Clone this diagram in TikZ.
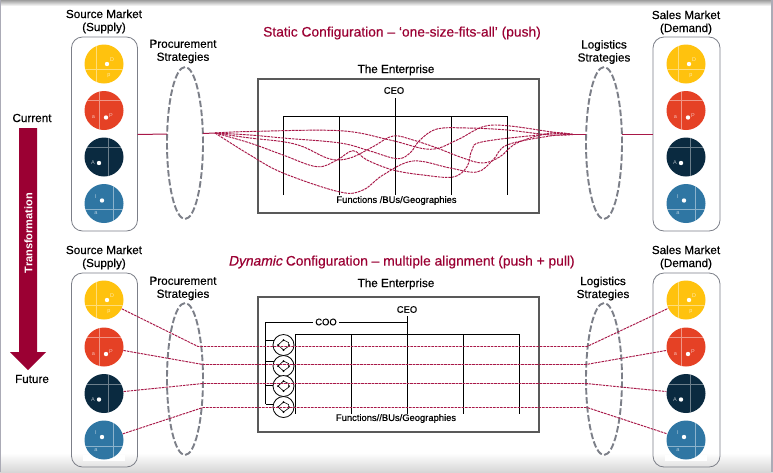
\documentclass[tikz,border=0pt]{standalone}
\usepackage{fontspec}
\setmainfont{Liberation Sans}
\newfontfamily\medfont[FakeBold=0.45]{Liberation Sans}
\newfontfamily\meditfont[FakeBold=0.6,FakeSlant=0.2]{Liberation Sans}
\usetikzlibrary{shapes.geometric,arrows.meta,calc}
\definecolor{wine}{HTML}{9B0033}
\definecolor{linkred}{HTML}{A81848}
\definecolor{ygold}{HTML}{FFC20E}
\definecolor{orng}{HTML}{E54125}
\definecolor{navy}{HTML}{0A2A40}
\definecolor{steel}{HTML}{2F76A3}
\definecolor{ringgray}{HTML}{7C7F88}
\tikzset{
  x=1pt,y=-1pt,
  market/.style={draw=ringgray,line width=0.8pt,rounded corners=11pt},
  strategy/.style={draw=ringgray,line width=1.9pt,dash pattern=on 6.5pt off 2.5pt,ellipse,minimum width=36pt,minimum height=152pt,inner sep=0pt},
  dot/.style={circle,fill=white,inner sep=0pt,minimum size=4.4pt},
  letter/.style={text=white,opacity=.65,inner sep=0pt,font=\fontsize{5.5pt}{5.5pt}\selectfont},
  tag/.style={align=center,inner sep=0pt,font=\medfont\fontsize{11.7pt}{13pt}\selectfont},
  small/.style={inner sep=0pt,font=\medfont\fontsize{9.4pt}{10pt}\selectfont},
  ent/.style={draw=black!65,line width=1.1pt,fill=white},
  org/.style={draw=black,line width=0.8pt},
  link/.style={draw=linkred,line width=0.95pt,dash pattern=on 2.6pt off 0.9pt},
  solidlink/.style={draw=linkred,line width=1pt},
  title/.style={inner sep=0pt,text=wine,font=\medfont\fontsize{13.8pt}{15pt}\selectfont},
  mc/.style={circle,inner sep=0pt,minimum size=39pt},
  ctl/.style={circle,draw=black,line width=0.8pt,fill=white,minimum size=21pt,inner sep=0pt},
}
% #1 prefix, #2 cx, #3..#6 cy of the four circles
\newcommand{\marketcol}[6]{
  \node[mc,fill=ygold] (#1a) at (#2,#3) {};
  \begin{scope}\clip (#2,#3) circle (19.5);
    \draw[white,opacity=.45,line width=.9pt] (#2-7.7,#3-20) -- (#2-7.7,#3+20) (#2-20,#3+5) -- (#2+20,#3+5);
  \end{scope}
  \node[dot] at (#2+3,#3) {};
  \node[letter] at (#2+8,#3-4.5) {D};
  \node[letter] at (#2+5,#3+12) {p};
  \node[mc,fill=orng] (#1b) at (#2,#4) {};
  \begin{scope}\clip (#2,#4) circle (19.5);
    \draw[white,opacity=.45,line width=.9pt] (#2-5,#4-20) -- (#2-5,#4+20) (#2-20,#4-10) -- (#2+20,#4-10);
  \end{scope}
  \node[dot] at (#2+2,#4+7) {};
  \node[letter] at (#2+7,#4+5) {P};
  \node[letter] at (#2-10.5,#4+7) {a};
  \node[mc,fill=navy] (#1c) at (#2,#5) {};
  \begin{scope}\clip (#2,#5) circle (19.5);
    \draw[white,opacity=.4,line width=.9pt] (#2+4,#5-20) -- (#2+4,#5+20) (#2-20,#5-9.5) -- (#2+20,#5-9.5);
  \end{scope}
  \node[dot] at (#2-5,#5+6) {};
  \node[letter] at (#2-11,#5+6) {A};
  \node[mc,fill=steel] (#1d) at (#2,#6) {};
  \begin{scope}\clip (#2,#6) circle (19.5);
    \draw[white,opacity=.45,line width=.9pt] (#2+9,#6-20) -- (#2+9,#6+20) (#2-20,#6+6) -- (#2+20,#6+6);
  \end{scope}
  \node[dot] at (#2-2,#6-3) {};
  \node[letter] at (#2-8,#6-7) {I};
  \node[letter] at (#2-8,#6+10) {a};
}
\newcommand{\ctlglyph}[2]{
  \draw[black,line width=.6pt] (#1-5.5,#2) -- (#1,#2-5) -- (#1+5,#2-2.5) -- (#1+5.5,#2+1) -- (#1,#2+5) -- cycle;
  \fill[black] (#1-5.5,#2) circle (1) (#1,#2-5) circle (1) (#1+5.5,#2) circle (1) (#1,#2+5) circle (1);
}
\begin{document}
\begin{tikzpicture}
\useasboundingbox (0,0) rectangle (773,472);
% page background
\fill[white] (0,0) rectangle (773,472);
\shade[top color=black!38,bottom color=white] (0,0) rectangle (773,6);
\shade[top color=white,bottom color=black!16] (0,453) rectangle (773,472);
\fill[black!30!blue!10!gray!60] (0,0) rectangle (1,472);
\fill[black!30!blue!10!gray!60] (771,0) rectangle (773,472);

% transformation arrow
\fill[wine] (19,128) -- (37,128) -- (37,352) -- (46,352) -- (28,370) -- (10,352) -- (19,352) -- cycle;
\node[rotate=90,inner sep=0pt,text=white,font=\bfseries\fontsize{11pt}{11pt}\selectfont] (trans) at (28.5,233) {Transformation};
\node[tag] (current) at (32,118) {Current};
\node[tag] (future) at (32,379) {Future};

% titles
\node[title] (t1) at (402,33) {Static Configuration – ‘one-size-fits-all’ (push)};
\node[title] (t2) at (401.5,262) {{\meditfont Dynamic} Configuration – multiple alignment (push + pull)};

% market boxes
\draw[market] (71.5,37) rectangle (137.5,231);
\draw[market] (653,37) rectangle (720,231);
\draw[market] (71.5,273) rectangle (137.5,467);
\draw[market] (653,273) rectangle (720,467);
\fill[white] (83,455) rectangle (125,461);
\fill[white] (665,455) rectangle (707,461);

\marketcol{sa}{104}{64}{110.5}{157}{203.5}
\marketcol{da}{686}{64}{110.5}{157}{203.5}
\marketcol{sb}{104}{300}{347}{393.5}{440}
\marketcol{db}{686}{300}{347}{393.5}{440}

\node[tag] (l1) at (104,21.5) {Source Market\\(Supply)};
\node[tag] (l2) at (686,22.5) {Sales Market\\(Demand)};
\node[tag] (l3) at (104,257.5) {Source Market\\(Supply)};
\node[tag] (l4) at (686,257.5) {Sales Market\\(Demand)};
\node[tag] (l5) at (183,51.5) {Procurement\\Strategies};
\node[tag] (l6) at (604,52) {Logistics\\Strategies};
\node[tag] (l7) at (183,288.5) {Procurement\\Strategies};
\node[tag] (l8) at (603,288.5) {Logistics\\Strategies};

% strategy ellipses
\node[strategy] (pa) at (185,143) {};
\node[strategy] (la) at (604,143) {};
\node[strategy] (pb) at (185,379) {};
\node[strategy] (lb) at (604,379) {};

% enterprise frames
\node[tag] (e1) at (396,70) {The Enterprise};
\node[tag] (e2) at (396,284) {The Enterprise};
\draw[ent] (258,79) rectangle (539,213);
\draw[ent] (258,297) rectangle (539,432);

% top organisation
\node[small] (ceo1) at (394,90.5) {CEO};
\draw[org] (395,98) -- (395,195);
\draw[org] (283.5,195) -- (283.5,116) -- (507,116) -- (507,195);
\draw[org] (339.5,116) -- (339.5,195);
\draw[org] (451.5,116) -- (451.5,195);
\node[small] (fun1) at (396.5,200.5) {Functions /BUs/Geographies};

% top links
\coordinate (L) at (215,133);
\coordinate (R) at (573,134.5);
\draw[solidlink] (137.5,134.5) -- (167,134);
\draw[solidlink] (203,133.5) -- (L);
\draw[solidlink] (R) -- (586,134.5);
\draw[solidlink] (622,134.5) -- (653,134.5);
\draw[link] plot[smooth,tension=.6] coordinates {(L) (250,131.5) (340,130.7) (390,140) (430,149.3) (457,140) (483,126.7) (507,125.7) (550,131.7) (R)};
\draw[link] plot[smooth,tension=.6] coordinates {(L) (250,135) (283,138) (340,143) (370,151) (397,158.7) (410,153) (420,140) (437,129) (467,128) (507,130) (550,135) (R)};
\draw[link] plot[smooth,tension=.6] coordinates {(L) (250,138) (283,141.7) (303,146.7) (330,159) (350,158) (373,146.7) (393,136) (413,140) (437,148) (463,158) (483,163) (500,156.7) (517,143) (550,133) (R)};
\draw[link] plot[smooth,tension=.6] coordinates {(L) (250,143) (283,155) (317,166.7) (337,160) (353,150.7) (367,160) (393,170) (423,175) (453,177) (467,166.7) (472,150) (483,141.7) (550,134) (R)};
\draw[link] plot[smooth,tension=.6] coordinates {(L) (250,155) (283,173) (340,192) (363,190) (383,175) (413,161) (450,168) (477,172) (493,160) (507,145) (550,136) (R)};

% bottom organisation
\node[small] (ceo2) at (407,309.5) {CEO};
\node[small,fill=white,inner xsep=2pt,inner ysep=1pt] (coo) at (326,322) {COO};
\draw[org] (407,316) -- (407,413.5);
\draw[org] (coo) -- (407,322);
\draw[org] (coo) -- (265.5,322) -- (265.5,404);
\draw[org] (295,413.5) -- (295,334) -- (519,334) -- (519,413.5);
\draw[org] (351,334) -- (351,413.5);
\draw[org] (463,334) -- (463,413.5);
\foreach \yy in {340.5,361,385,404} \draw[org] (265.5,\yy) -- (274,\yy);
\node[small] (fun2) at (396,418.5) {Functions//BUs/Geographies};

\foreach \nm/\yy in {a/345,b/366,c/386,d/407}{
  \node[ctl] (ctl\nm) at (283.5,\yy) {};
  \ctlglyph{283.5}{\yy}
}

% bottom links
\coordinate (pa1) at (198,346.5);
\coordinate (pa2) at (203,364.5);
\coordinate (pa3) at (203,383.5);
\coordinate (pa4) at (203,407.5);
\coordinate (la1) at (587,346.5);
\coordinate (la2) at (586,364.5);
\coordinate (la3) at (586,383.5);
\coordinate (la4) at (587,407.5);
\draw[link] (sba) -- (pa1) -- (la1) -- (dba);
\draw[link] (sbb) -- (pa2) -- (la2) -- (dbb);
\draw[link] (sbc) -- (pa3) -- (la3) -- (dbc);
\draw[link] (sbd) -- (pa4) -- (la4) -- (dbd);
\end{tikzpicture}
\end{document}
